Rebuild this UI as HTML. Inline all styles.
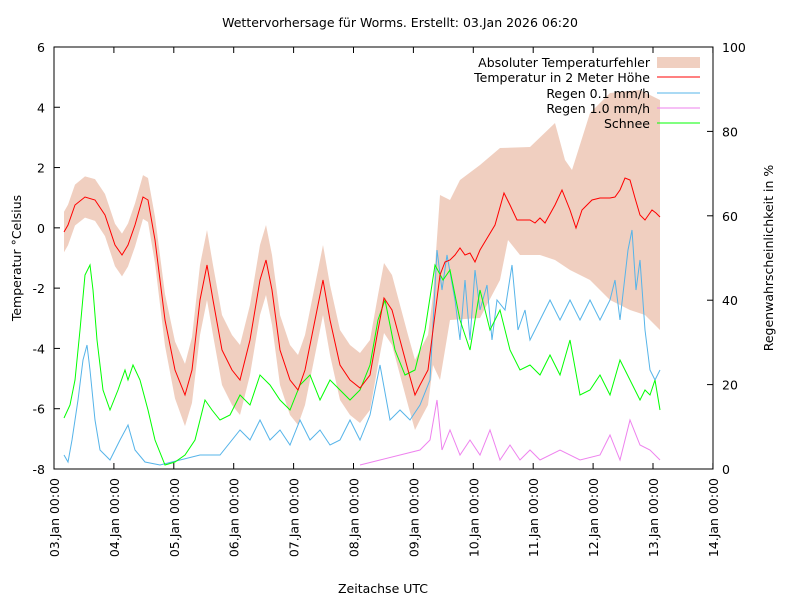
<!DOCTYPE html>
<html><head><meta charset="utf-8"><style>
body{margin:0;background:#fff;}
svg{display:block;font-family:"DejaVu Sans","Liberation Sans",sans-serif;font-size:12.5px;}
</style></head><body>
<svg id="s" width="800" height="600" xmlns="http://www.w3.org/2000/svg">
<rect width="800" height="600" fill="#fff"/>
<g id="band"></g>
<text x="400" y="27" text-anchor="middle">Wettervorhersage für Worms. Erstellt: 03.Jan 2026 06:20</text>
<rect x="54" y="47" width="659" height="422" fill="none" stroke="#000" stroke-width="1"/>
<g id="ticks" stroke="#000"></g>
<g id="labels"></g>
<g id="lines" fill="none" stroke-width="1"></g>
<text x="21" y="258" text-anchor="middle" transform="rotate(-90 21 258)">Temperatur °Celsius</text>
<text x="773" y="258" text-anchor="middle" transform="rotate(-90 773 258)">Regenwahrscheinlichkeit in %</text>
<text x="383" y="593" text-anchor="middle">Zeitachse UTC</text>
<g text-anchor="end">
<text x="650" y="67">Absoluter Temperaturfehler</text>
<rect x="657" y="57" width="43" height="11" fill="#f0cfc0"/>
<text x="650" y="82">Temperatur in 2 Meter Höhe</text>
<line x1="657" y1="77" x2="700" y2="77" stroke="#ff0000"/>
<text x="650" y="98">Regen 0.1 mm/h</text>
<line x1="657" y1="93" x2="700" y2="93" stroke="#56b4e9"/>
<text x="650" y="113">Regen 1.0 mm/h</text>
<line x1="657" y1="108" x2="700" y2="108" stroke="#ee82ee"/>
<text x="650" y="128">Schnee</text>
<line x1="657" y1="123" x2="700" y2="123" stroke="#00ff00"/>
</g>
</svg>
<script>
var NS="http://www.w3.org/2000/svg";
function el(p,t,a,txt){var e=document.createElementNS(NS,t);for(var k in a)e.setAttribute(k,a[k]);if(txt)e.textContent=txt;document.getElementById(p).appendChild(e);return e;}
for(var i=0;i<=7;i++){var y=469-i*60.29;var v=-8+2*i;
el("ticks","line",{x1:54,y1:y,x2:60,y2:y});
el("labels","text",{x:45,y:y+5,"text-anchor":"end"},String(v));}
for(var i=0;i<=5;i++){var y=469-i*84.4;
el("ticks","line",{x1:707,y1:y,x2:713,y2:y});
el("labels","text",{x:722,y:y+5},String(i*20));}
for(var i=0;i<=11;i++){var x=54+i*59.9;
el("ticks","line",{x1:x,y1:469,x2:x,y2:463});el("ticks","line",{x1:x,y1:47,x2:x,y2:53});
var d=(3+i<10?"0":"")+(3+i);
el("labels","text",{x:x+5,y:478,"text-anchor":"end",transform:"rotate(-90 "+(x+5)+" 478)"},d+".Jan 00:00");}
var red=[[64,232],[68,225],[75,205],[85,197],[95,200],[105,215],[115,245],[122,255],[128,245],[135,225],[143,197],[148,200],[155,240],[165,320],[175,370],[185,395],[192,370],[200,300],[207,265],[213,300],[222,350],[232,370],[240,380],[250,340],[260,280],[266,260],[272,290],[280,350],[290,380],[298,390],[305,370],[315,320],[323,280],[330,320],[340,365],[350,380],[360,388],[370,375],[378,330],[384,298],[392,310],[400,340],[408,370],[415,395],[420,385],[428,370],[433,330],[440,275],[445,262],[450,260],[455,255],[460,248],[465,255],[470,253],[475,262],[480,250],[486,240],[495,225],[504,193],[510,205],[517,220],[530,220],[535,223],[540,218],[545,223],[555,205],[562,190],[570,210],[576,228],[582,210],[585,207],[592,200],[600,198],[610,198],[615,197],[620,190],[625,178],[630,180],[635,198],[640,215],[645,220],[652,210],[656,213],[660,217]];
var W=[[54,20],[150,22],[200,35],[430,35]];
function w(x){for(var i=1;i<W.length;i++){if(x<=W[i][0]){var a=W[i-1],b=W[i];return a[1]+(b[1]-a[1])*(x-a[0])/(b[0]-a[0]);}}return 35;}
var U=[],L=[];
red.forEach(function(p){if(p[0]<=433){U.push([p[0],p[1]-w(p[0])]);L.push([p[0],Math.min(469,p[1]+w(p[0]))]);}});
U=U.concat([[440,195],[450,200],[460,180],[480,165],[500,148],[530,147],[555,123],[565,160],[572,170],[590,113],[610,93],[640,90],[660,100]]);
L=L.concat([[440,380],[450,320],[480,318],[500,280],[508,240],[520,255],[540,255],[555,260],[570,270],[590,280],[610,300],[630,310],[645,315],[660,330]]);
var pts=U.map(function(p){return p.join(",")}).concat(L.slice().reverse().map(function(p){return p.join(",")}));
el("band","polygon",{points:pts.join(" "),fill:"#f0cfc0"});
function pl(d,c){el("lines","polyline",{points:d.map(function(p){return p.join(",")}).join(" "),stroke:c});}
pl([[64,455],[68,462],[72,440],[78,400],[83,360],[87,345],[90,370],[95,420],[100,450],[110,460],[120,440],[128,425],[135,450],[145,462],[160,465],[180,460],[200,455],[220,455],[240,430],[250,440],[260,420],[270,440],[280,430],[290,445],[300,420],[310,440],[320,430],[330,445],[340,440],[350,420],[360,440],[370,415],[380,365],[390,420],[400,410],[410,420],[420,405],[430,380],[437,250],[442,290],[447,255],[455,300],[460,340],[465,280],[470,340],[475,270],[480,310],[487,285],[492,340],[497,300],[505,310],[512,265],[518,330],[525,310],[530,340],[540,320],[550,300],[560,320],[570,300],[580,320],[590,300],[600,320],[610,300],[615,280],[620,320],[628,250],[632,230],[636,290],[640,260],[645,330],[650,370],[655,380],[660,370]],"#56b4e9");
pl([[360,465],[380,460],[420,450],[430,440],[437,400],[442,450],[450,430],[460,455],[470,440],[480,455],[490,430],[500,460],[510,445],[520,460],[530,450],[540,460],[560,450],[580,460],[600,455],[610,435],[620,460],[630,420],[640,445],[650,450],[660,460]],"#ee82ee");
pl([[64,418],[70,405],[75,380],[80,330],[85,275],[90,265],[93,290],[97,340],[103,390],[110,410],[118,390],[125,370],[128,380],[133,365],[140,380],[148,410],[155,440],[165,465],[175,462],[185,455],[195,440],[205,400],[212,410],[220,420],[230,415],[240,395],[250,405],[260,375],[270,385],[280,400],[290,410],[300,385],[310,375],[320,400],[330,380],[340,390],[350,400],[360,390],[370,365],[378,320],[385,300],[395,350],[405,375],[415,370],[425,330],[435,265],[443,280],[450,270],[460,320],[470,350],[480,290],[490,330],[500,310],[510,350],[520,370],[530,365],[540,375],[550,355],[560,375],[570,340],[580,395],[590,390],[600,375],[610,395],[620,360],[630,380],[640,400],[645,390],[650,395],[655,380],[660,410]],"#00ff00");
pl(red,"#ff0000");
</script>
</body></html>
